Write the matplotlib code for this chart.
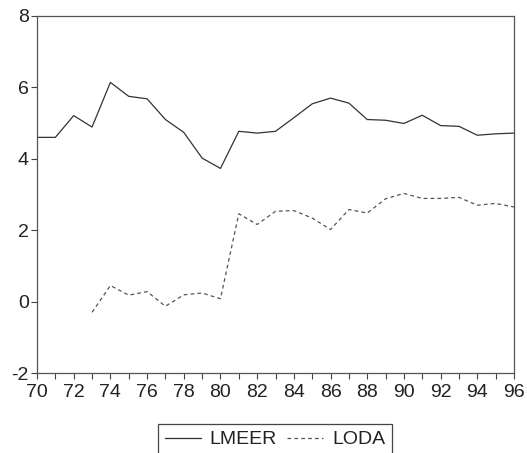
import matplotlib
matplotlib.use("Agg")
import matplotlib.pyplot as plt
import numpy as np

years = list(range(70, 97))
lmeer = [4.60, 4.60, 5.21, 4.89, 6.14, 5.75, 5.68, 5.10, 4.74, 4.02, 3.73,
         4.77, 4.72, 4.77, 5.15, 5.54, 5.70, 5.56, 5.10, 5.08, 4.99, 5.22,
         4.93, 4.91, 4.66, 4.70, 4.72]
loda_years = list(range(73, 97))
loda = [-0.30, 0.45, 0.18, 0.28, -0.13, 0.19, 0.24, 0.08, 2.46, 2.16, 2.53,
        2.55, 2.34, 2.02, 2.58, 2.48, 2.88, 3.03, 2.89, 2.89, 2.92, 2.70,
        2.75, 2.65]
yticks = [-2, 0, 2, 4, 6, 8]
xticklabels = [str(y) for y in range(70, 97, 2)]

plt.rcParams['font.family'] = ['Liberation Sans', 'DejaVu Sans']
plt.rcParams['axes.unicode_minus'] = False

fig = plt.figure(figsize=(5.27, 4.53), dpi=100)
ax = fig.add_axes([37/527, 1-373/453, (514-37)/527, (373-16)/453])

ax.plot(years, lmeer, color='#333333', lw=0.9, label='LMEER')
ax.plot(loda_years, loda, color='#555555', lw=0.9, ls=(0, (3, 2.5)), label='LODA')

ax.set_xlim(70, 96)
ax.set_ylim(-2, 8)
ax.set_yticks(yticks)
ax.set_xticks(list(range(70, 97, 2)))
ax.set_xticklabels(xticklabels)
ax.set_xticks(years, minor=True)
ax.tick_params(axis='both', which='both', direction='out', length=4, width=0.8,
               color='#444444', labelsize=14, pad=2, labelcolor='#222222')
ax.tick_params(axis='x', which='both', pad=4)
for s in ax.spines.values():
    s.set_color('#555555')
    s.set_linewidth(0.9)

leg = fig.legend(loc='upper center', bbox_to_anchor=(275/527, 1-424/453), ncol=2,
                 frameon=True, fancybox=False, fontsize=14, handlelength=1.85,
                 handletextpad=0.45, columnspacing=0.55, borderpad=0.35,
                 borderaxespad=0, edgecolor='#444444', framealpha=1,
                 labelcolor='#222222')
leg.get_frame().set_linewidth(0.9)

fig.savefig('out.png', dpi=100)
